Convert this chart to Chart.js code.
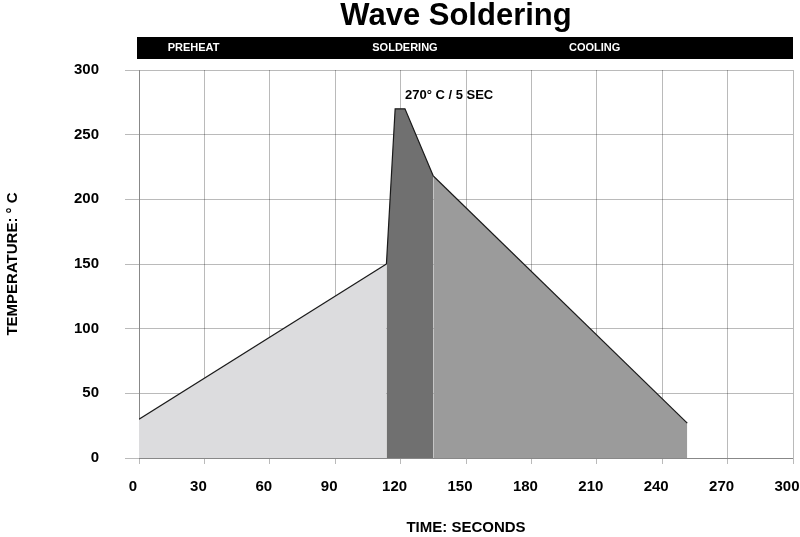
<!DOCTYPE html>
<html>
<head>
<meta charset="utf-8">
<script src="https://cdn.jsdelivr.net/npm/chart.js@4"></script>
<style>
  html, body { margin: 0; padding: 0; background: #fff; }
  #wrap { width: 800px; height: 537px; }
</style>
</head>
<body>
<div id="wrap"><canvas id="profileChart" width="800" height="537"></canvas></div>
<script>
// profile, split by phase (seconds / deg C)
const preheatTime = [0, 113.5];
const preheatTemp = [30, 150];
const solderTime = [113.5, 117.5, 122, 135];
const solderTemp = [150, 270, 270, 218];
const coolTime = [135, 251.5];
const coolTemp = [218, 27];

const phaseLabels = ["PREHEAT", "SOLDERING", "COOLING"];
const phaseLabelAt = [25, 122, 209];
const peakNote = "270° C / 5 SEC";
const peakNoteAt = [122, 280];

const xTicks = [0, 30, 60, 90, 120, 150, 180, 210, 240, 270, 300];
const yTicks = [0, 50, 100, 150, 200, 250, 300];

const FONT = "'Liberation Sans', Arial, sans-serif";

function toPoints(xs, ys) {
  return xs.map((x, i) => ({ x: x, y: ys[i] }));
}

const headerPlugin = {
  id: "header",
  afterDraw(chart) {
    const ctx = chart.ctx;
    const area = chart.chartArea;
    const x = chart.scales.x;
    const y = chart.scales.y;
    ctx.save();
    // title
    ctx.fillStyle = "#000";
    ctx.font = "bold 31px " + FONT;
    ctx.textAlign = "center";
    ctx.textBaseline = "middle";
    ctx.fillText("Wave Soldering", 456, 16);
    // phase band
    ctx.fillRect(area.left - 2, 37, area.right - area.left + 2, 22);
    ctx.fillStyle = "#fff";
    ctx.font = "bold 11px " + FONT;
    phaseLabels.forEach((t, i) => {
      ctx.fillText(t, x.getPixelForValue(phaseLabelAt[i]), 48);
    });
    // peak note
    ctx.fillStyle = "#000";
    ctx.font = "bold 13px " + FONT;
    ctx.textAlign = "left";
    ctx.fillText(peakNote, x.getPixelForValue(peakNoteAt[0]), y.getPixelForValue(peakNoteAt[1]));
    ctx.restore();
  }
};

function phase(label, xs, ys, fillColor) {
  return {
    label: label,
    data: toPoints(xs, ys),
    borderColor: "#1a1a1a",
    borderWidth: 1.2,
    backgroundColor: fillColor,
    fill: "origin",
    pointRadius: 0,
    tension: 0
  };
}

const ctx = document.getElementById("profileChart").getContext("2d");
new Chart(ctx, {
  type: "line",
  data: {
    datasets: [
      phase("Preheat", preheatTime, preheatTemp, "#dcdcde"),
      phase("Soldering", solderTime, solderTemp, "#707070"),
      phase("Cooling", coolTime, coolTemp, "#9b9b9b")
    ]
  },
  plugins: [headerPlugin],
  options: {
    responsive: false,
    animation: false,
    layout: { padding: { top: 70, right: 7, left: 0, bottom: 0 } },
    plugins: {
      legend: { display: false },
      tooltip: { enabled: false }
    },
    scales: {
      x: {
        type: "linear",
        min: 0,
        max: 300,
        z: 1,
        afterBuildTicks: (s) => { s.ticks = xTicks.map((v) => ({ value: v })); },
        afterFit: (s) => { s.height = 79; s.paddingLeft = 0; s.paddingRight = 0; },
        grid: { color: "rgba(0,0,0,0.27)", tickLength: 6 },
        border: { color: "rgba(0,0,0,0.27)" },
        ticks: {
          color: "#000",
          font: { family: FONT, size: 15, weight: "bold" },
          padding: 14,
          labelOffset: -6,
          maxRotation: 0
        },
        title: {
          display: true,
          text: "TIME: SECONDS",
          color: "#000",
          font: { family: FONT, size: 15, weight: "bold" },
          padding: { top: 0, bottom: 0 }
        }
      },
      y: {
        min: 0,
        max: 300,
        z: 1,
        afterBuildTicks: (s) => { s.ticks = yTicks.map((v) => ({ value: v })); },
        afterFit: (s) => { s.width = 139; s.paddingTop = 0; s.paddingBottom = 0; },
        grid: { color: "rgba(0,0,0,0.27)", tickLength: 14 },
        border: { color: "rgba(0,0,0,0.27)" },
        ticks: {
          color: "#000",
          font: { family: FONT, size: 15, weight: "bold" },
          padding: 26
        },
        title: {
          display: true,
          text: "TEMPERATURE: ° C",
          color: "#000",
          font: { family: FONT, size: 15, weight: "bold" },
          padding: { top: 4, bottom: 0 }
        }
      }
    }
  }
});
</script>
</body>
</html>
